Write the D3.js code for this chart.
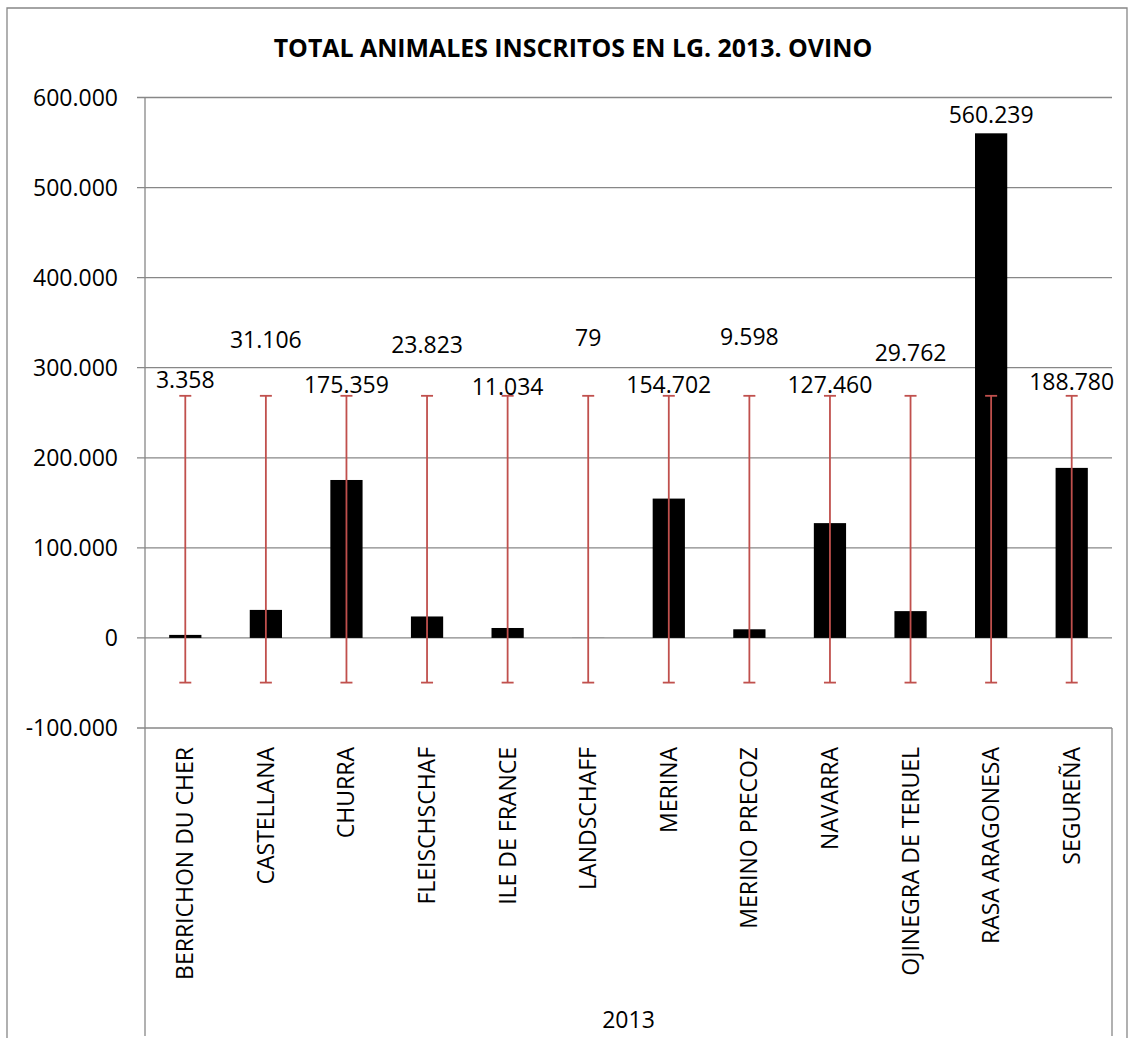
<!DOCTYPE html>
<html><head><meta charset="utf-8">
<script src="https://cdn.jsdelivr.net/npm/d3@7"></script>
<style>body{margin:0;background:#fff;} text{font-family:"Open Sans",sans-serif;}</style>
</head><body>
<svg id="chart" width="1130" height="1041"></svg>
<script>
const categories = ["BERRICHON DU CHER","CASTELLANA","CHURRA","FLEISCHSCHAF","ILE DE FRANCE","LANDSCHAFF","MERINA","MERINO PRECOZ","NAVARRA","OJINEGRA DE TERUEL","RASA ARAGONESA","SEGUREÑA"];
const values = [3358,31106,175359,23823,11034,79,154702,9598,127460,29762,560239,188780];
// data-label anchor heights (in data units) as placed in the original
const labelAnchor = [277000,321500,271500,316000,269300,323700,271500,324800,271500,307000,571300,274800];
// standard-deviation error bar extent
const errorLow = -49600;
const errorHigh = 268800;
const yTicks = [-100000,0,100000,200000,300000,400000,500000,600000];
const groupLabel = "2013";
const title = "TOTAL ANIMALES INSCRITOS EN LG. 2013. OVINO";

(function(){
const svg = d3.select("#chart");
const gridColor = "#878787";
const locale = d3.formatLocale({decimal:",", thousands:".", grouping:[3], currency:["",""], minus:"-"});
const fmt = locale.format(",d");

const pL = 145, pR = 1112, pT = 97.5, pB = 728, axisBottom = 1036;
const y = d3.scaleLinear().domain([-100000,600000]).range([pB, pT]);
const x = d3.scaleBand().domain(categories).range([pL, pR]).paddingInner(0.6).paddingOuter(0.3);
const cx = c => x(c) + x.bandwidth()/2;

// outer border
svg.append("path").attr("d", `M7,1038 V8 H1127 V1038`).attr("fill","none").attr("stroke",gridColor).attr("stroke-width",1.3);

// title
const t = svg.append("text").attr("x", 573).attr("y", 57).attr("text-anchor","middle")
  .attr("font-weight","bold").attr("font-size",22).text(title);
const tw = t.node().getComputedTextLength();
t.attr("font-size", 22*599/tw);

// gridlines
svg.append("g").selectAll("line").data(yTicks).join("line")
  .attr("x1", pL-8).attr("x2", pR).attr("y1", d=>y(d)).attr("y2", d=>y(d))
  .attr("stroke", gridColor).attr("stroke-width",1.3);

// y tick labels
svg.append("g").selectAll("text").data(yTicks).join("text")
  .attr("x", 118).attr("y", d=>y(d)+8).attr("text-anchor","end").attr("font-size",23).attr("fill","#000")
  .text(d=>fmt(d));

// axis lines
svg.append("line").attr("x1",pL).attr("x2",pL).attr("y1",pT).attr("y2",axisBottom).attr("stroke",gridColor).attr("stroke-width",1.3);
svg.append("line").attr("x1",pR).attr("x2",pR).attr("y1",pB).attr("y2",axisBottom).attr("stroke",gridColor).attr("stroke-width",1.3);

// bars
svg.append("g").selectAll("rect").data(values).join("rect")
  .attr("x",(d,i)=>x(categories[i])).attr("width",x.bandwidth())
  .attr("y",d=>y(Math.max(0,d))).attr("height",d=>Math.abs(y(d)-y(0)))
  .attr("fill","#000");

// error bars
const eb = svg.append("g").attr("stroke","#C0504D").attr("stroke-width",1.8);
categories.forEach(c=>{
  const xc = cx(c);
  eb.append("line").attr("x1",xc).attr("x2",xc).attr("y1",y(errorHigh)).attr("y2",y(errorLow));
  eb.append("line").attr("x1",xc-6).attr("x2",xc+6).attr("y1",y(errorHigh)).attr("y2",y(errorHigh));
  eb.append("line").attr("x1",xc-6).attr("x2",xc+6).attr("y1",y(errorLow)).attr("y2",y(errorLow));
});

// data labels
svg.append("g").selectAll("text").data(values).join("text")
  .attr("x",(d,i)=>cx(categories[i])).attr("y",(d,i)=>y(labelAnchor[i]))
  .attr("text-anchor","middle").attr("font-size",23).attr("fill","#000")
  .text(d=>fmt(d));

// category labels
svg.append("g").selectAll("text").data(categories).join("text")
  .attr("transform",c=>`translate(${cx(c)+8},747) rotate(-90)`)
  .attr("text-anchor","end").attr("font-size",23).attr("fill","#000").text(c=>c);

// group label
svg.append("text").attr("x",(pL+pR)/2).attr("y",1028).attr("text-anchor","middle")
  .attr("font-size",23).attr("fill","#000").text(groupLabel);
})();
</script>
</body></html>
